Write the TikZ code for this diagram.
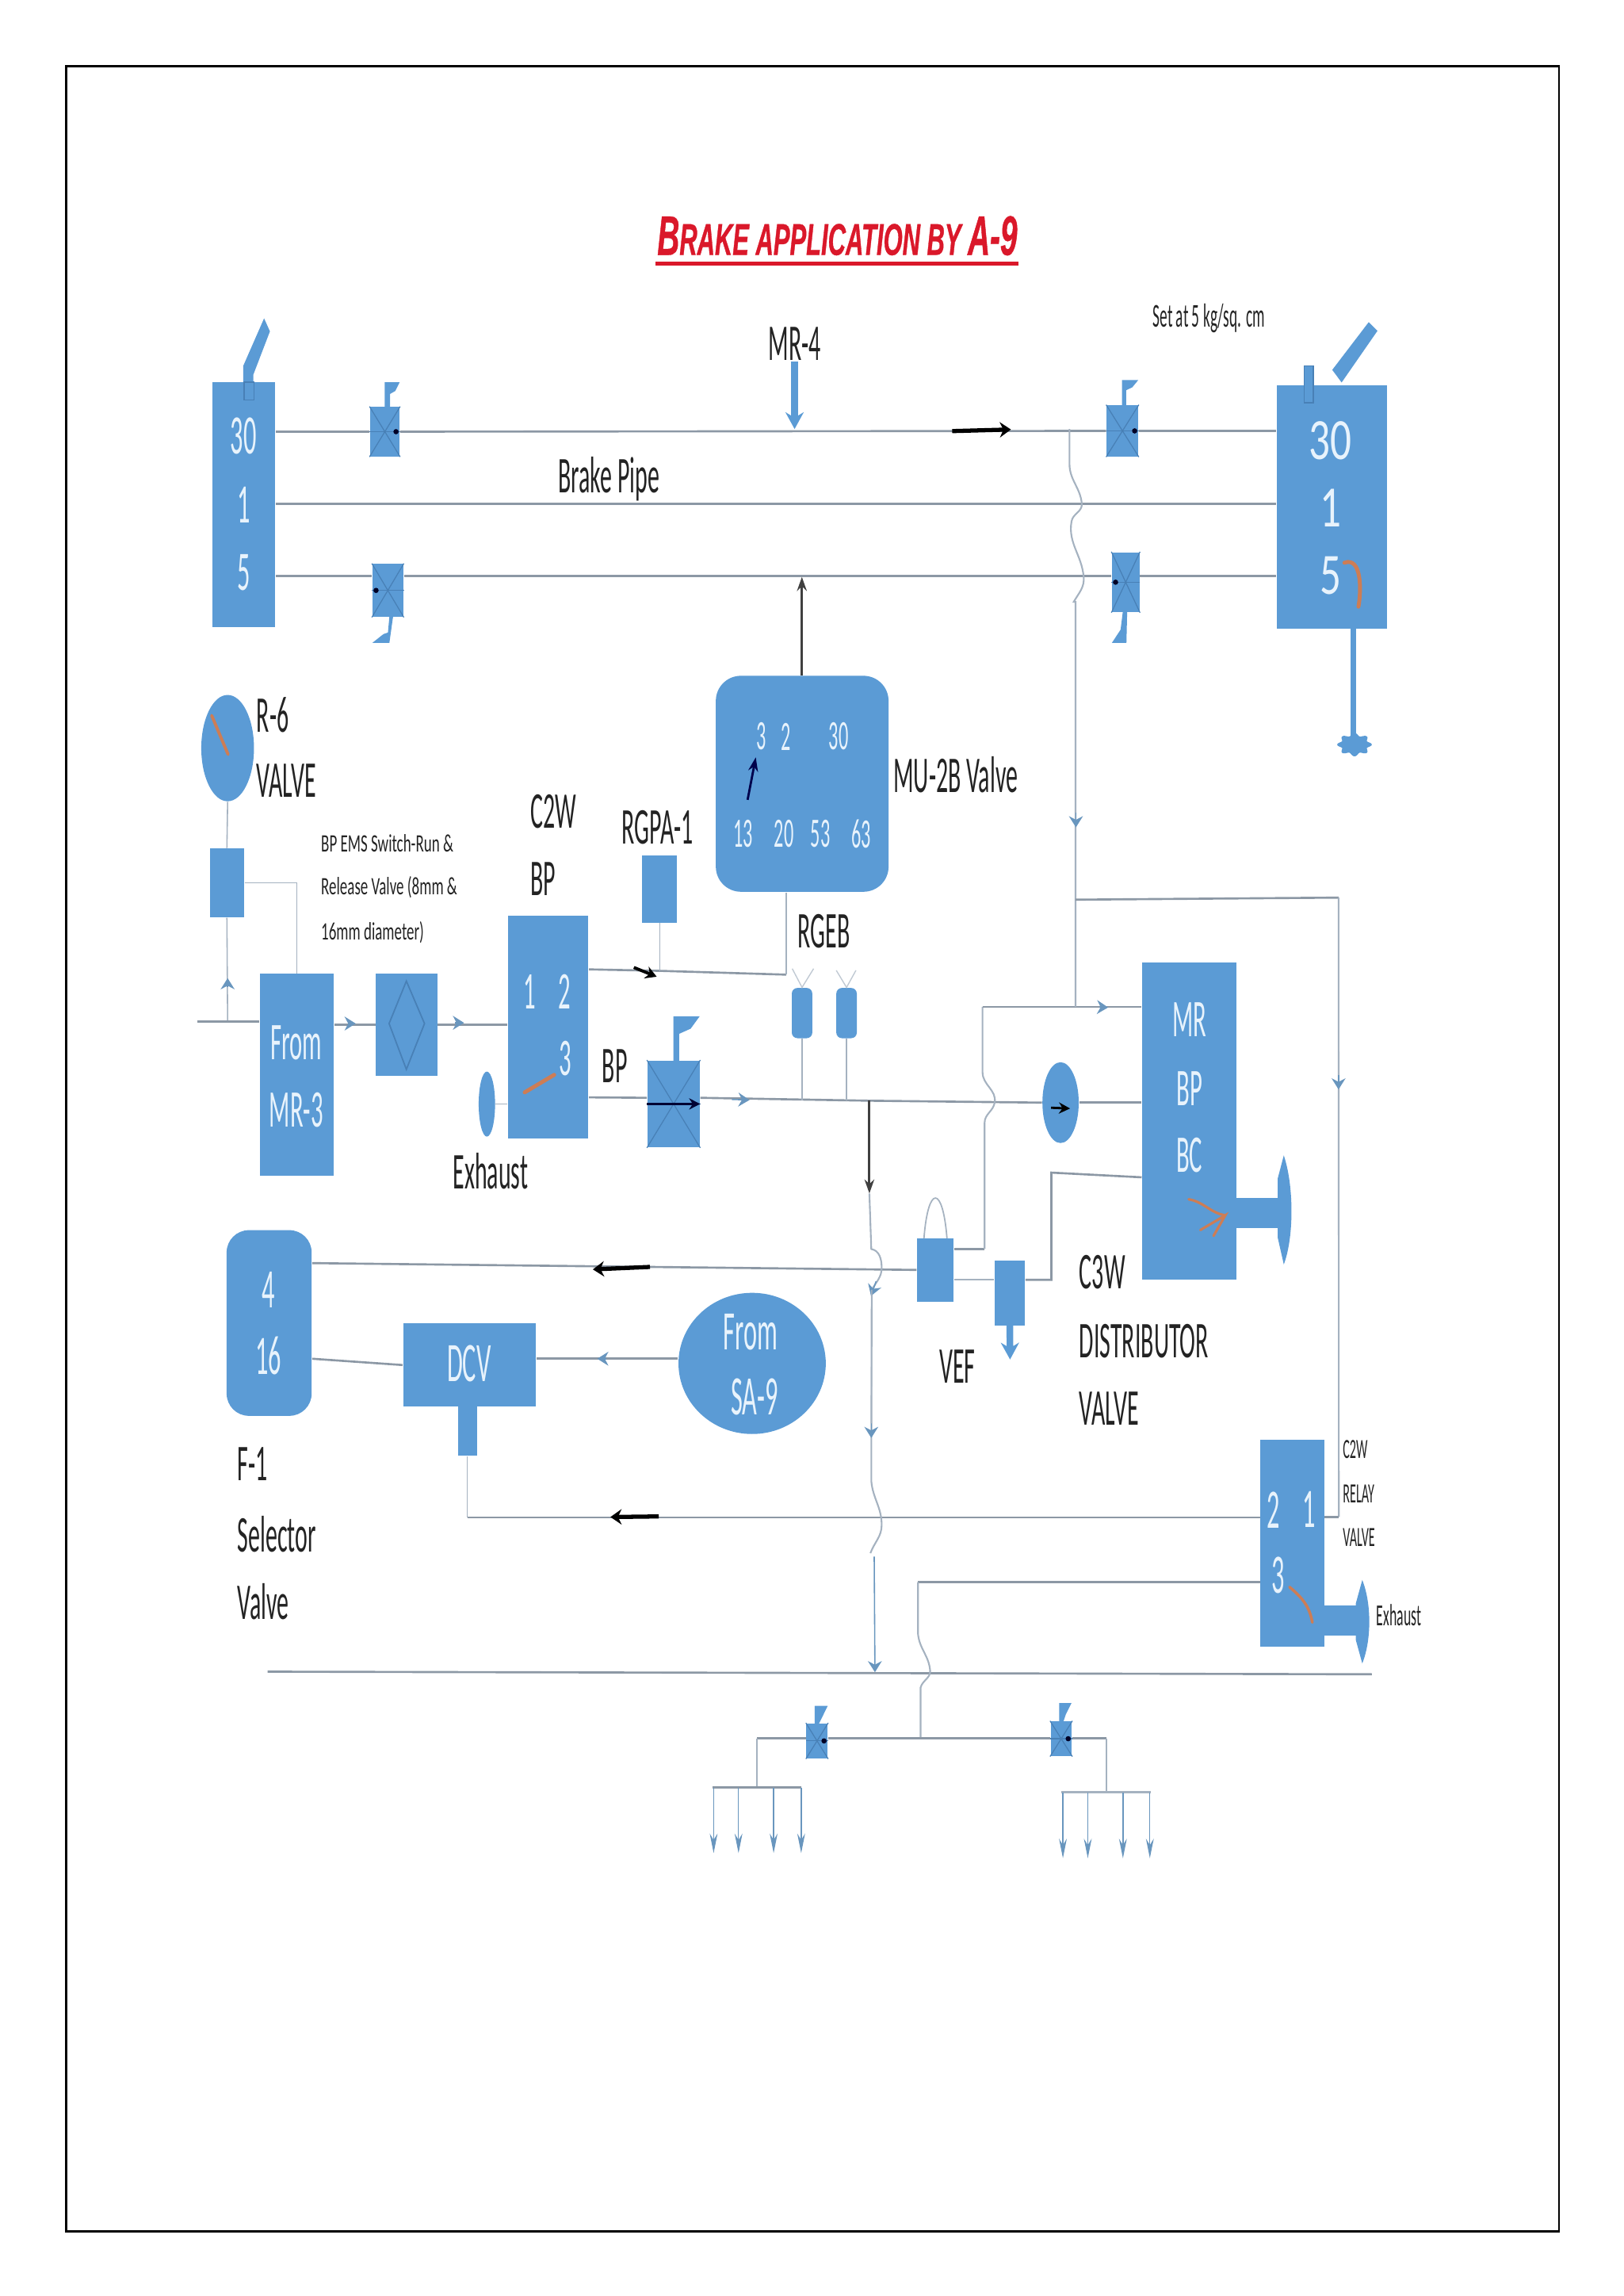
\documentclass[tikz,border=0pt]{standalone}
\usepackage{fontspec}
\setmainfont{Carlito}
\newfontfamily\narrowfont[FakeStretch=0.46]{Carlito}
\newfontfamily\halffont[FakeStretch=0.6]{Carlito}
\newfontfamily\widefont[FakeStretch=0.72]{Carlito}
\newfontfamily\titlefont[FakeStretch=0.55, FakeBold=0.6]{Liberation Sans}
\usepackage{xcolor}
\definecolor{valveblue}{RGB}{91, 155, 213}
\definecolor{valveedge}{RGB}{72, 128, 182}
\definecolor{pipegray}{RGB}{140, 152, 165}
\definecolor{pipelight}{RGB}{165, 178, 192}
\definecolor{tipblue}{RGB}{105, 150, 190}
\definecolor{needle}{RGB}{205, 125, 85}
\definecolor{porttext}{RGB}{232, 243, 252}
\definecolor{inktext}{RGB}{35, 35, 35}
\definecolor{titlered}{RGB}{218, 24, 42}
\usetikzlibrary{shapes.geometric, arrows.meta, positioning, fit}
\newlength{\unitpx}
\setlength{\unitpx}{0.5254pt}
\tikzset{
  block/.style = {
    rectangle,
    fill=valveblue,
    inner sep=0pt
  },
  softblock/.style = {
    block,
    rounded corners=#1
  },
  oval/.style = {
    ellipse,
    fill=valveblue,
    inner sep=0pt
  },
  portlabel/.style = {
    font=\narrowfont\fontsize{#1}{#1}\selectfont,
    text=porttext,
    inner sep=0pt
  },
  portlabel/.default=20,
  inklabel/.style = {
    font=\narrowfont\fontsize{#1}{#1}\selectfont,
    text=inktext,
    inner sep=0pt
  },
  inklabel/.default=18.5,
  notelabel/.style = {
    font=\halffont\fontsize{9}{9}\selectfont,
    text=inktext,
    inner sep=0pt,
    anchor=west
  },
  pipe/.style = {
    line width=0.75pt,
    draw=pipegray
  },
  thinpipe/.style = {
    line width=0.45pt,
    draw=pipelight
  },
  blacktip/.style = {
    -{Stealth[length=4pt, width=5.5pt]},
    line width=1.5pt,
    draw=black
  },
  darkpipe/.style = {
    -{Stealth[length=5pt, width=3.5pt]},
    line width=0.8pt,
    draw=black!75
  },
  smalltip/.style = {
    -{Stealth[length=4pt, width=5pt]},
    line width=0.45pt,
    draw=tipblue
  },
  flowdown/.style = {
    -{Stealth[length=6pt, width=6.5pt]},
    line width=2.6pt,
    draw=valveblue
  },
  outlet/.style = {
    -{Stealth[length=7pt, width=2.8pt]},
    line width=0.4pt,
    draw=tipblue
  },
  valvemark/.style = {
    line width=0.35pt,
    draw=valveedge
  },
  needleline/.style = {
    line width=1.4pt,
    draw=needle,
    line cap=round
  }
}

\begin{document}
\begin{tikzpicture}[x=0.01847cm, y=-0.01847cm]
  \useasboundingbox (0,0) rectangle (1109,1568);
  \draw[line width=0.8pt, color=black] (45,45) rectangle (1065,1524);

  % Title
  \node[inner sep=0pt, text=titlered, font=\titlefont\bfseries\itshape\fontsize{16}{16}\selectfont] at (572,161) (title)
    {{\fontsize{20}{20}\selectfont B}RAKE APPLICATION BY {\fontsize{20}{20}\selectfont A-9}};
  \coordinate (ulinea) at (448,180);
  \coordinate (ulineb) at (696,180);
  \draw[line width=1.3pt, color=titlered] (ulinea) -- (ulineb);

  % Rails
  \coordinate (railone) at (0,344);
  \coordinate (railfive) at (0,393.5);

  % Brake valves
  \node[block, fit={(145,261) (188,428)}] (sa30l) {};
  \node[portlabel] at (166.4,298) (sa30la) {30};
  \node[portlabel] at (166.4,345) (sa30lb) {1};
  \node[portlabel] at (166.4,391) (sa30lc) {5};
  \fill[valveblue] (166.1,261) -- (166.1,250) -- (180.4,217.4) -- (184.4,226.3) -- (173,256) -- (173,261) -- cycle;
  \draw[valvemark, fill=valveblue] (166.7,261) rectangle (173.6,273);

  \node[block, fit={(872.3,263) (947.4,429.2)}] (sa30r) {};
  \node[portlabel, font=\widefont\fontsize{21}{21}\selectfont] at (909,301) (sa30ra) {30};
  \node[portlabel, font=\widefont\fontsize{21}{21}\selectfont] at (909,347) (sa30rb) {1};
  \node[portlabel, font=\widefont\fontsize{21}{21}\selectfont] at (909,393) (sa30rc) {5};
  \fill[valveblue] (910.1,252.6) -- (935,220) -- (941,225.9) -- (916.5,261.2) -- cycle;
  \draw[valvemark, fill=valveblue] (890.8,250) rectangle (897.1,275.1);
  \draw[needleline] (918.4,384.3) to[out=20, in=80] (928,414.3);
  \fill[valveblue] (922.8,427) rectangle (926.2,503);
  \fill[valveblue] plot[domain=0:360, samples=145] ({925.3+(10.5+1.3*cos(8*\x))*cos(\x)},{508.5+(7+1*cos(8*\x))*sin(\x)}) -- cycle;

  % Isolating cocks on the rails
  \node[block, fit={(252.8,278) (273,311.6)}] (cockla) {};
  \node[block, fit={(254.4,385.2) (275.5,421.2)}] (cocklb) {};
  \node[block, fit={(756,276.8) (777.6,311.7)}] (cockra) {};
  \node[block, fit={(759.6,377.2) (778.4,418)}] (cockrb) {};
  \node[block, fit={(442.3,724.3) (478,783.5)}] (cockbp) {};
  \node[block, fit={(550.9,1177) (565.4,1200.8)}] (cockfa) {};
  \node[block, fit={(717.7,1175.6) (732.2,1199.2)}] (cockfb) {};
  \foreach \cock in {cockla, cocklb, cockra, cockrb, cockbp, cockfa, cockfb} {
    \draw[valvemark] (\cock.north west) -- (\cock.south east) (\cock.north east) -- (\cock.south west);
    \draw[valvemark] (\cock.west) -- (\cock.east);
  }
  \foreach \cock in {cockla, cockra, cockfa, cockfb} {
    \fill[black!85!blue] ([xshift=-1.5pt]\cock.east) circle (1.8);
  }
  \foreach \cock in {cocklb, cockrb} {
    \fill[black!85!blue] ([xshift=1.5pt]\cock.west) circle (1.8);
  }
  \fill[valveblue] (262.8,278) -- (262.8,261) -- (273,261) -- (270,267) -- (266.5,269) -- (266.5,278) -- cycle;
  \fill[valveblue] (266,421.2) -- (265,432) -- (262,433) -- (254.4,439) -- (266,439) -- (268.5,421.2) -- cycle;
  \fill[valveblue] (766.5,276.8) -- (766.5,259.5) -- (777.6,259.5) -- (773.5,264.5) -- (769.3,266.5) -- (769.3,276.8) -- cycle;
  \fill[valveblue] (767,418) -- (765.5,430) -- (759.6,439) -- (769.5,439) -- (770,418) -- cycle;
  \fill[valveblue] (460,724.3) -- (460,694) -- (478,694) -- (471.8,702.5) -- (464,706) -- (464,724.3) -- cycle;
  \fill[valveblue] (556.5,1177) -- (556.5,1165) -- (565.4,1165) -- (561.5,1173) -- (559.5,1177) -- cycle;
  \fill[valveblue] (723.5,1175.6) -- (723.5,1163) -- (732,1163) -- (728,1171) -- (726.5,1175.6) -- cycle;
  \draw[-{Stealth[length=4pt, width=4pt]}, line width=0.7pt, draw=black!80!blue] (cockbp.west) -- ([yshift=0pt]cockbp.east);

  % Rail pipes
  \draw[pipe] (sa30l.east |- cockla) -- (cockla.west);
  \draw[pipe] (cockla.east) -- (cockra.west);
  \draw[pipe] (cockra.east) -- (sa30r.west |- cockra);
  \draw[pipe] (sa30l.east |- railone) -- (sa30r.west |- railone);
  \draw[pipe] (sa30l.east |- railfive) -- (cocklb.west |- railfive);
  \draw[pipe] (cocklb.east |- railfive) -- (cockrb.west |- railfive);
  \draw[pipe] (cockrb.east |- railfive) -- (sa30r.west |- railfive);
  \coordinate (arrowra) at (650.5,294.4);
  \coordinate (arrowrb) at (690.6,293.3);
  \draw[blacktip] (arrowra) -- (arrowrb);

  % MR-4 feed
  \node[inklabel] at (542.8,234.5) (mrfour) {MR-4};
  \coordinate (mrfourend) at (542.8,293);
  \draw[flowdown] (mrfour.south |- 0,247) -- (mrfourend);
  \node[inklabel] at (416,327) (brakepipe) {Brake Pipe};
  \node[inklabel=12] at (825.9,217.3) (setat) {Set at 5 kg/sq. cm};

  % MU-2B
  \node[softblock=9pt, fit={(489,461.5) (607,609)}] (mutwob) {};
  \node[inklabel] at (610,529) [anchor=west] (mutext) {MU-2B Valve};
  \node[portlabel=15] at (520,503) (muthree) {3};
  \node[portlabel=15] at (537.1,503) (mutwo) {2};
  \node[portlabel=15] at (572.9,503) (muthirty) {30};
  \node[portlabel=15] at (507.6,569.6) (muthirteen) {13};
  \node[portlabel=15] at (535.6,569.6) (mutwenty) {20};
  \node[portlabel=15] at (560.4,569.6) (mufiftythree) {53};
  \node[portlabel=15] at (588.4,569.6) (musixtythree) {63};
  \coordinate (muneedlea) at (510.7,546.2);
  \coordinate (muneedleb) at (516.3,517.2);
  \draw[-{Stealth[length=5pt, width=3.5pt]}, line width=0.8pt, draw=black!70!blue] (muneedlea) -- (muneedleb);
  \draw[darkpipe] (mutwob.north -| 547.8,0) -- (547.8,394);

  % R-6 and MR-3 feed
  \node[oval, minimum width=36\unitpx, minimum height=72.6\unitpx] at (155.5,510.9) (rsix) {};
  \draw[needleline, line width=1.1pt] (144.6,488.6) -- (155.8,515.2);
  \node[inklabel] at (175,488) [anchor=west] (rsixa) {R-6};
  \node[inklabel] at (175,533) [anchor=west] (rsixb) {VALVE};
  \node[block, fit={(143.3,579.5) (166.7,626.4)}] (rsixbox) {};
  \node[block, fit={(177.5,665.1) (227.9,802.9)}] (frommr) {};
  \node[portlabel=19] at (202.4,712) (frommra) {From};
  \node[portlabel=19] at (202.4,758) (frommrb) {MR-3};
  \coordinate (mrin) at (134.6,697.7);
  \coordinate (rsixdrop) at (155.5,697.7);
  \draw[thinpipe] (rsix.south) -- (rsixbox.north);
  \draw[thinpipe] (rsixdrop) -- (rsixbox.south);
  \draw[smalltip] (155.5,674) -- (155.5,668);
  \draw[pipe] (mrin) -- (frommr.west |- rsixdrop);
  \draw[thinpipe] (rsixbox.east) -- (rsixbox.east -| frommr.north) -- (frommr.north);
  \node[block, fit={(256.8,665.1) (298.7,734.7)}] (emsbox) {};
  \draw[valvemark, line width=0.5pt] (277.6,670) -- (265.8,699) -- (277.6,730.3) -- (290,699) -- cycle;
  \node[notelabel] at (219,576) (emsa) {BP EMS Switch-Run \&};
  \node[notelabel] at (219,606) (emsb) {Release Valve (8mm \&};
  \node[notelabel] at (219,637) (emsc) {16mm diameter)};
  \draw[pipe] (frommr.east |- emsbox.west) -- (emsbox.west);
  \draw[smalltip] (238,699) -- (243,699);

  % C2W BP
  \node[block, fit={(346.9,625.4) (402,777.5)}] (ctwobp) {};
  \node[inklabel] at (362,554) [anchor=west] (ctwoa) {C2W};
  \node[inklabel] at (362,600) [anchor=west] (ctwob) {BP};
  \node[portlabel=19] at (362.1,677.2) (ctwoone) {1};
  \node[portlabel=19] at (385.8,677.2) (ctwotwo) {2};
  \node[portlabel=19] at (386.4,723.1) (ctwothree) {3};
  \draw[needleline] (358.4,746) -- (378.6,734);
  \draw[pipe] (emsbox.east) -- (ctwobp.west |- emsbox.east);
  \draw[smalltip] (311,698.5) -- (317,698.5);
  \node[oval, minimum width=11.2\unitpx, minimum height=44.4\unitpx] at (332.6,754) (ctwoexh) {};
  \draw[thinpipe] (ctwoexh.east) -- (ctwobp.west |- ctwoexh.east);
  \node[inklabel] at (335.1,800) (ctwoexhtext) {Exhaust};

  % RGPA-1 and RGEB
  \node[inklabel] at (449.2,565) (rgpatext) {RGPA-1};
  \node[block, fit={(438.6,584.1) (462.5,630)}] (rgpa) {};
  \coordinate (rgpajoin) at (450.7,663);
  \coordinate (mujoin) at (537.1,665.6);
  \draw[pipe] (ctwobp.east |- 0,662) -- (rgpajoin) -- (mujoin);
  \draw[thinpipe] (mujoin) -- (mutwob.south -| mujoin);
  \draw[thinpipe] (rgpa.south -| rgpajoin) -- (rgpajoin);
  \coordinate (rgpaarrowa) at (433,660.7);
  \coordinate (rgpaarrowb) at (448.6,667);
  \draw[-{Stealth[length=4pt, width=4.5pt]}, line width=1.1pt, draw=black] (rgpaarrowa) -- (rgpaarrowb);
  \node[inklabel] at (562.9,636) (rgebtext) {RGEB};
  \node[softblock=2pt, fit={(540.9,674.7) (554.9,709)}] (rgeba) {};
  \node[softblock=2pt, fit={(571.3,674.7) (585.3,709)}] (rgebb) {};
  \draw[line width=0.4pt, draw=pipelight!70] (541.2,661.5) -- (rgeba.north) -- (555.8,661.5);
  \draw[line width=0.4pt, draw=pipelight!70] (571.3,662.7) -- (rgebb.north) -- (584.7,662.7);
  \node[inklabel] at (420,728) (bptext) {BP};

  % BP line to distributor
  \coordinate (bptee) at (593.9,751.7);
  \node[oval, minimum width=24.8\unitpx, minimum height=55.2\unitpx] at (724.5,753) (bpcheck) {};
  \draw[pipe] (ctwobp.east |- cockbp) ++(0,-4.5) -- (cockbp.west |- 0,749.7);
  \draw[pipe] (cockbp.east |- 0,749.7) -- (bptee) -- (bpcheck.west);
  \draw[smalltip] (500,750.8) -- (512,751.2);
  \draw[thinpipe] (rgeba.south) -- (rgeba.south |- bptee);
  \draw[thinpipe] (rgebb.south) -- (rgebb.south |- bptee);
  \draw[-{Stealth[length=4pt, width=4pt]}, line width=0.8pt, draw=black] (718,756.5) -- (731,757);
  \draw[darkpipe] (bptee) -- (593.9,815);

  % C3W distributor
  \node[block, fit={(780.3,657.2) (844.7,874)}] (cthree) {};
  \node[portlabel=19] at (812.6,696.4) (cthreemr) {MR};
  \node[portlabel=19] at (812.6,743.4) (cthreebp) {BP};
  \node[portlabel=19] at (812.6,789) (cthreebc) {BC};
  \draw[needleline, line width=0.9pt] (812,819) to[out=-10, in=170] (837,830);
  \draw[needleline, line width=0.9pt] (820,840) -- (837,830) -- (829,844);
  \fill[valveblue] (844.7,818) rectangle (873,838.7);
  \fill[valveblue] (877,789) .. controls (884,810) and (884,845) .. (877,863.5) -- (872.8,845) -- (872.8,805) -- cycle;
  \draw[pipe] (bpcheck.east) -- (cthree.west |- bpcheck.east);
  \node[inklabel] at (737,869) [anchor=west] (cthreea) {C3W};
  \node[inklabel] at (737,916) [anchor=west] (cthreeb) {DISTRIBUTOR};
  \node[inklabel] at (737,962) [anchor=west] (cthreec) {VALVE};

  % VEF
  \node[block, fit={(626.5,845.6) (651.3,888.9)}] (vef) {};
  \node[block, fit={(679.5,860.8) (700.2,905)}] (vefbox) {};
  \node[inklabel] at (654.1,933) (veftext) {VEF};
  \coordinate (vefdrop) at (690,928.4);
  \draw[flowdown, line width=2.4pt] (vefbox.south) -- (vefdrop);
  \coordinate (belll) at (631.2,845.6);
  \coordinate (bellr) at (646.9,845.6);
  \draw[thinpipe, line width=0.5pt] (belll) .. controls (634,809) and (644,809) .. (bellr);
  \coordinate (mrjoin) at (734.7,687.6);
  \coordinate (mrup) at (671.2,687.6);
  \draw[pipe] (vef.east |- 0,853) -- (672.6,853);
  \draw[thinpipe, line width=0.6pt] (672.6,853) -- (672.6,766.8) to[out=90, in=-100] (679.5,753) to[out=80, in=-90] (671.2,732.3) -- (mrup);
  \draw[pipe] (mrup) -- (cthree.west |- mrup);
  \draw[smalltip] (751,687.8) -- (757,688);
  \coordinate (bccorner) at (718.2,800.8);
  \draw[thinpipe] (vef.east |- 0,874) -- (vefbox.west |- 0,874);
  \draw[pipe] (vefbox.east |- 0,874) -- (718.2,874) -- (bccorner) -- (cthree.west |- 0,804);

  % Tap line from rail down to MR
  \coordinate (tapa) at (730.6,293);
  \coordinate (tapb) at (730.6,316.8);
  \coordinate (tapc) at (739,344);
  \coordinate (tapd) at (732,356);
  \coordinate (tape) at (740.3,394);
  \coordinate (tapf) at (733.5,411);
  \draw[thinpipe, line width=0.6pt] (tapa) -- (tapb) to[out=-90, in=95] (tapc) to[out=-85, in=80] (tapd) to[out=-100, in=95] (tape) to[out=-85, in=60] (tapf) -- (mrjoin |- tapf) -- (mrjoin);
  \draw[smalltip] (735,555) -- (735,565);
  \coordinate (relayjog) at (734.7,614.4);
  \coordinate (relaycorner) at (914.4,613);
  \coordinate (relayend) at (914.6,1036);
  \draw[pipe] (relayjog) -- (relaycorner);
  \draw[thinpipe, line width=0.6pt] (relaycorner) -- (relayend);
  \draw[smalltip] (914.4,734) -- (914.4,744);

  % F-1 selector
  \node[softblock=8pt, fit={(154.8,840.1) (212.9,966.9)}] (fone) {};
  \node[portlabel] at (183.4,880.8) (fonea) {4};
  \node[portlabel] at (183.4,925.8) (foneb) {16};
  \node[inklabel] at (162,1000) [anchor=west] (fonetexta) {F-1};
  \node[inklabel] at (162,1047.5) [anchor=west] (fonetextb) {Selector};
  \node[inklabel] at (162,1093.5) [anchor=west] (fonetextc) {Valve};
  \draw[pipe] (fone.east |- 0,862.6) -- (vef.west);
  \coordinate (fonearrowa) at (444,865.2);
  \coordinate (fonearrowb) at (405,866.9);
  \draw[blacktip] (fonearrowa) -- (fonearrowb);

  % DCV
  \node[block, fit={(275.4,903.9) (366.1,960.5)}] (dcv) {};
  \node[portlabel] at (320.4,931) (dcvtext) {DCV};
  \node[block, fit={(312.7,953.6) (325.7,994.3)}] (dcvstem) {};
  \node[oval, minimum width=100.6\unitpx, minimum height=96.4\unitpx] at (513.8,931.1) (fromsa) {};
  \node[portlabel] at (512.8,909.5) (fromsaa) {From};
  \node[portlabel] at (515.3,954) (fromsab) {SA-9};
  \draw[pipe] (fone.east |- 0,927.9) -- (dcv.west);
  \draw[pipe] (fromsa.west |- 0,927.9) -- (dcv.east |- 0,927.9);
  \draw[smalltip] (414,927.9) -- (408,927.9);

  % C2W relay
  \node[block, fit={(861,983.5) (904.5,1124.4)}] (relay) {};
  \node[portlabel] at (870,1031) (relaytwo) {2};
  \node[portlabel] at (894.3,1031) (relayone) {1};
  \node[portlabel] at (873,1076) (relaythree) {3};
  \draw[needleline, line width=1pt] (880.9,1083.8) to[out=-40, in=100] (896.5,1108);
  \fill[valveblue] (904.5,1096.4) rectangle (928,1116.7);
  \fill[valveblue] (930.6,1079) .. controls (937,1095) and (937,1120) .. (930.6,1136) -- (926.2,1120) -- (926.2,1095) -- cycle;
  \node[inklabel=10] at (917,990) [anchor=west] (relaytexta) {C2W};
  \node[inklabel=10] at (917,1020) [anchor=west] (relaytextb) {RELAY};
  \node[inklabel=10] at (917,1050) [anchor=west] (relaytextc) {VALVE};
  \node[inklabel=11] at (940,1103) [anchor=west] (relayexh) {Exhaust};
  \coordinate (dcvbend) at (319.2,1036.2);
  \draw[thinpipe] (dcvstem.south) -- (dcvbend);
  \draw[pipe] (dcvbend) -- (relay.west |- dcvbend);
  \draw[pipe] (relay.east |- relayend) -- (relayend);
  \coordinate (relayarrowa) at (450,1035.6);
  \coordinate (relayarrowb) at (417,1036);
  \draw[blacktip] (relayarrowa) -- (relayarrowb);

  % Long tap down to bottom rail
  \coordinate (bottoma) at (182.8,1141.6);
  \coordinate (bottomb) at (937.1,1143.4);
  \draw[pipe] (bottoma) -- (bottomb);
  \coordinate (downa) at (593.9,815);
  \coordinate (downb) at (595.2,853);
  \coordinate (downc) at (602.3,865.8);
  \coordinate (downd) at (595.5,880.8);
  \coordinate (downe) at (595.2,1011.4);
  \coordinate (downf) at (602.3,1041.4);
  \coordinate (downg) at (594.6,1060.7);
  \coordinate (downh) at (597.2,1063);
  \coordinate (downi) at (597.7,1142);
  \draw[thinpipe, line width=0.6pt] (downa) -- (downb) to[out=-10, in=90] (downc) to[out=-90, in=60] (downd) -- (downe) to[out=-85, in=90] (downf) to[out=-90, in=70] (downg);
  \draw[smalltip] (downh) -- (downi);
  \draw[smalltip] (598.5,875) -- (595,885);
  \draw[smalltip] (595.2,972) -- (595.2,982);
  \draw[thinpipe] (downd) -- (595.2,972);

  % Feed pipe under relay port 3
  \coordinate (feeda) at (627.1,1080.5);
  \coordinate (feedb) at (627.1,1115.7);
  \coordinate (feedc) at (635.4,1140.8);
  \coordinate (feedd) at (628.9,1152.4);
  \coordinate (feede) at (628.9,1187.2);
  \draw[pipe] (relay.west |- feeda) -- (feeda);
  \draw[thinpipe, line width=0.6pt] (feeda) -- (feedb) to[out=-85, in=95] (feedc) to[out=-85, in=75] (feedd) -- (feede);
  \coordinate (branchl) at (517.2,1187.2);
  \coordinate (branchr) at (755.8,1187.2);
  \draw[pipe] (branchl) -- (cockfa.west |- branchl);
  \draw[pipe] (cockfa.east |- branchl) -- (cockfb.west |- branchl);
  \draw[pipe] (cockfb.east |- branchl) -- (branchr);

  % Brake cylinder outlets
  \coordinate (barla) at (486.8,1220.7);
  \coordinate (barlb) at (547.3,1220.7);
  \coordinate (barra) at (725,1224);
  \coordinate (barrb) at (786,1224);
  \draw[thinpipe] (branchl) -- (branchl |- barla);
  \draw[thinpipe] (branchr) -- (branchr |- barra);
  \draw[pipe, line width=1pt] (barla) -- (barlb);
  \draw[pipe, line width=0.8pt, draw=pipelight] (barra) -- (barrb);
  \foreach \xo in {487.5, 504.5, 528.5, 547.3} {
    \draw[outlet] (\xo,1220.7) -- (\xo,1265.5);
  }
  \foreach \xo in {726.1, 743.1, 767.1, 785.5} {
    \draw[outlet] (\xo,1224) -- (\xo,1269);
  }
\end{tikzpicture}
\end{document}
